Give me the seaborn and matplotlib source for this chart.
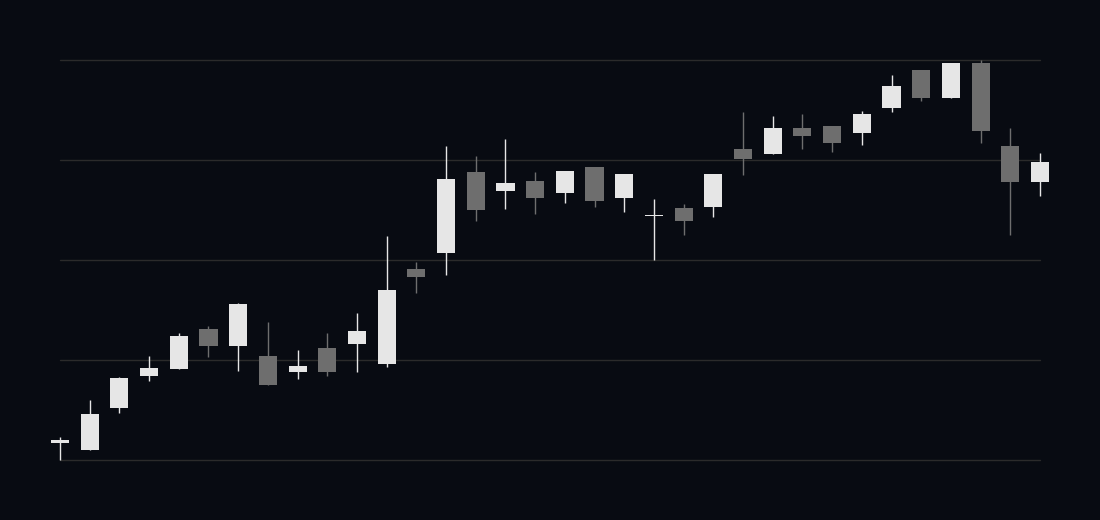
import numpy as np
import pandas as pd
import matplotlib

matplotlib.use("Agg")
import matplotlib.pyplot as plt
import seaborn as sns

######Data (OHLC per session)
opens = [101.7, 101.0, 105.2, 108.4, 109.1, 113.1, 111.4, 110.4, 108.8, 111.2,
         111.6, 109.6, 119.1, 120.7, 128.8, 126.9, 127.9, 126.7, 129.3, 126.2,
         124.38, 125.2, 125.3, 131.1, 130.6, 133.2, 133.4, 132.7, 135.2, 139.0,
         136.2, 139.7, 131.4, 127.8]
highs = [102.3, 106.0, 108.3, 110.4, 112.7, 113.4, 115.7, 113.8, 111.0, 112.7,
         114.7, 122.4, 119.8, 131.4, 130.4, 132.1, 128.8, 128.9, 129.3, 128.6,
         126.1, 125.6, 128.6, 134.8, 134.4, 134.6, 133.4, 134.9, 138.5, 139.0,
         139.7, 140.0, 133.2, 130.7]
lows = [100.0, 101.0, 104.7, 107.9, 109.1, 110.3, 108.9, 107.5, 108.1, 108.4,
        108.8, 109.3, 116.7, 118.5, 123.9, 125.1, 124.6, 125.7, 125.3, 124.8,
        120.0, 122.5, 124.3, 128.5, 130.6, 131.1, 130.8, 131.5, 134.8, 135.9,
        136.2, 131.7, 122.5, 126.4]
closes = [102.0, 104.6, 108.2, 109.2, 112.4, 111.4, 115.6, 107.5, 109.4, 108.8,
          112.9, 117.0, 118.3, 128.1, 125.0, 127.7, 126.2, 128.9, 125.9, 128.6,
          124.45, 123.9, 128.6, 130.1, 133.2, 132.4, 131.7, 134.6, 137.4, 136.2,
          139.7, 132.9, 127.8, 129.8]

df = pd.DataFrame({"open": opens, "high": highs, "low": lows, "close": closes})
df["x"] = np.arange(len(df))
df["up"] = df["close"] >= df["open"]

bg = "#080b12"
up_color = "#e6e6e6"
down_color = "#6e6e6e"

sns.set_theme(style="dark", rc={
    "figure.facecolor": bg,
    "axes.facecolor": bg,
    "axes.edgecolor": bg,
})

fig = plt.figure(figsize=(11, 5.2), dpi=100)
ax = fig.add_axes([60 / 1100, 60 / 520, 980 / 1100, 400 / 520])

for y in np.linspace(100, 140, 5):
    ax.axhline(y, color="#2b2b2b", linewidth=1, zorder=0, clip_on=False)

colors = np.where(df["up"], up_color, down_color)
ax.vlines(df["x"], df["low"], df["high"], colors=colors, linewidth=1,
          clip_on=False, zorder=2)

body_bottom = np.minimum(df["open"], df["close"])
body_height = np.maximum(np.abs(df["close"] - df["open"]), 0.12)
ax.bar(df["x"], body_height, bottom=body_bottom, width=0.61, color=colors,
       linewidth=0, clip_on=False, zorder=3)

ax.set_xlim(0, len(df) - 1)
ax.set_ylim(100, 140)
ax.set_xticks([])
ax.set_yticks([])
ax.grid(False)
for s in ax.spines.values():
    s.set_visible(False)

plt.savefig("out.png", dpi=100, facecolor=bg)
plt.close(fig)
